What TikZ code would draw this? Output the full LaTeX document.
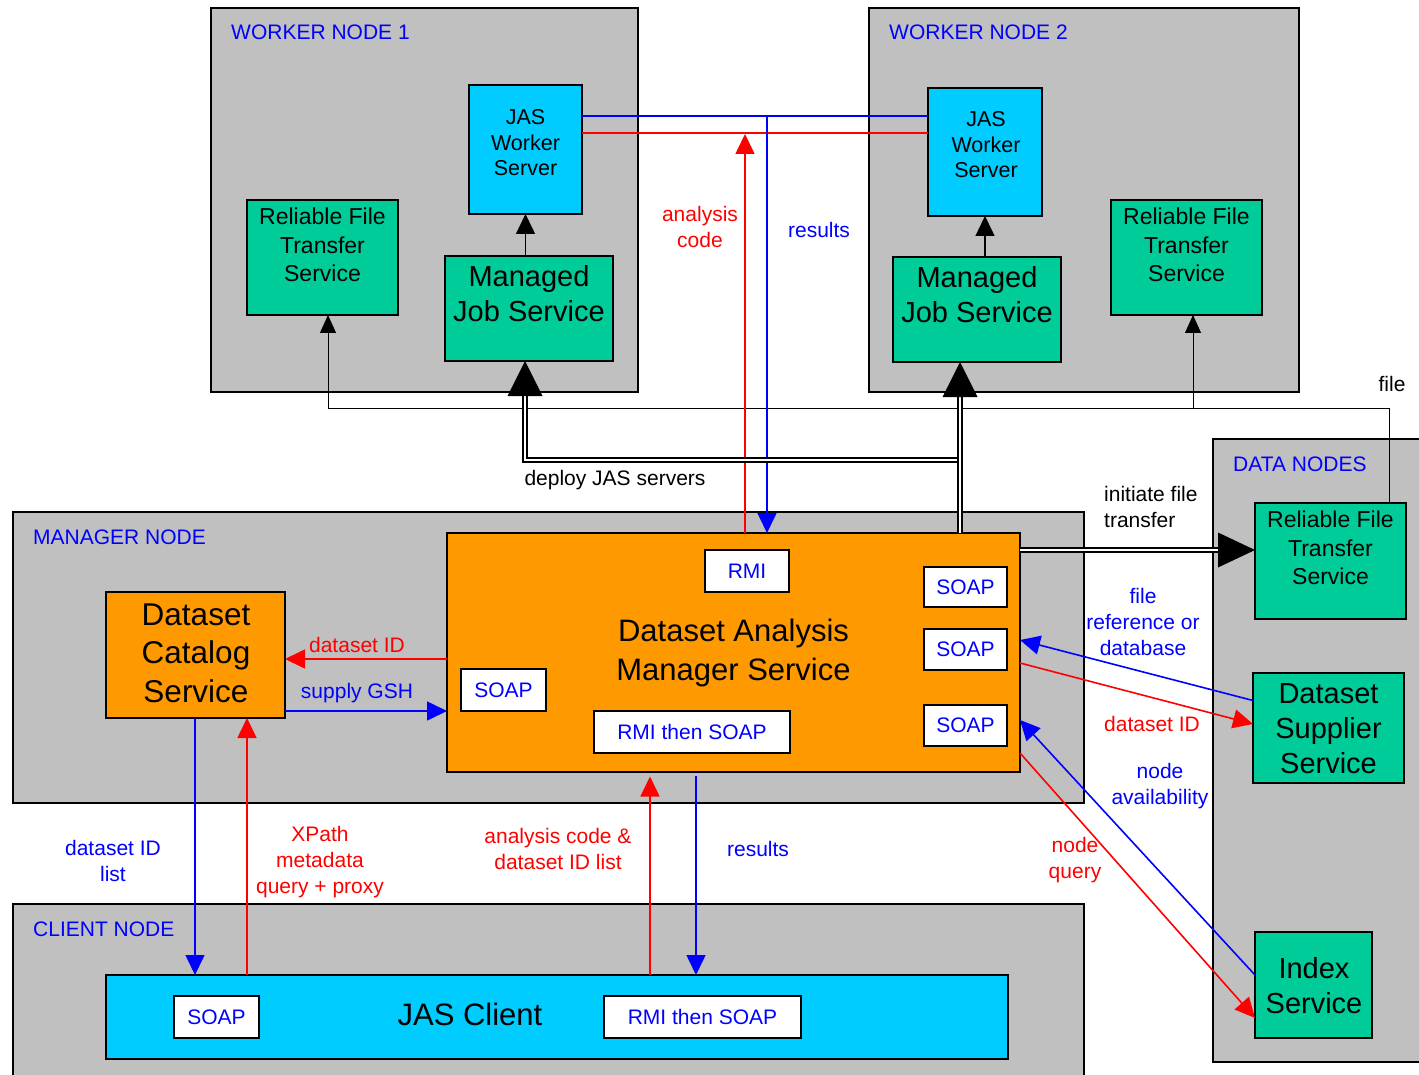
\documentclass[tikz,border=0pt]{standalone}
\usepackage{fontspec}
\setmainfont{Liberation Sans}
\usetikzlibrary{arrows.meta,calc}
\definecolor{ngray}{HTML}{C0C0C0}
\definecolor{jcyan}{HTML}{00CCFF}
\definecolor{sgreen}{HTML}{00CC99}
\definecolor{morange}{HTML}{FF9900}
\definecolor{lblue}{HTML}{0000FF}
\definecolor{lred}{HTML}{FF0000}
\newcommand{\fsz}[2]{\fontsize{#1}{#2}\selectfont}
\begin{document}
\begin{tikzpicture}[x=1pt,y=-1pt,
 container/.style={draw=black, line width=1.5pt, fill=ngray, anchor=north west, inner sep=0pt, outer sep=0pt},
 svcbox/.style={draw=black, line width=1.5pt, anchor=north west, inner sep=0pt, outer sep=0pt},
 portbox/.style={draw=black, fill=white, line width=1.2pt, anchor=north west, inner sep=0pt, outer sep=0pt, text=lblue, font=\fsz{21}{25}},
 grouplabel/.style={anchor=west, text=lblue, font=\fsz{21}{25}, inner sep=0pt},
 svctext/.style={align=center, inner sep=0pt},
 lbl/.style={align=center, inner sep=0pt, font=\fsz{21}{26}},
 bl/.style={draw=lblue, line width=1.6pt},
 rl/.style={draw=lred, line width=1.6pt},
 blk/.style={draw=black, line width=1.5pt},
 thinl/.style={draw=black, line width=0.9pt},
 tip/.style={-{Triangle[width=19pt,length=20pt]}},
 smalltip/.style={-{Triangle[width=16pt,length=18pt]}},
 dbl/.style={draw=black, line width=2pt, double=white, double distance=2.4pt},
]
\useasboundingbox (0,0) rectangle (1419,1075);
\fill[white] (0,0) rectangle (1419,1075);

% containers
\node[container, minimum width=427pt, minimum height=384pt] (w1) at (211,8) {};
\node[container, minimum width=430pt, minimum height=384pt] (w2) at (869,8) {};
\node[container, minimum width=1071pt, minimum height=291pt] (mgr) at (13,512) {};
\node[container, minimum width=1071pt, minimum height=190pt] (cli) at (13,904) {};
\node[container, minimum width=225pt, minimum height=623pt] (dat) at (1213,439) {};

\node[grouplabel] (w1l) at (231,32) {WORKER NODE 1};
\node[grouplabel] (w2l) at (889,32) {WORKER NODE 2};
\node[grouplabel] (mgrl) at (33,537) {MANAGER NODE};
\node[grouplabel] (clil) at (33,929) {CLIENT NODE};
\node[grouplabel] (datl) at (1233,464) {DATA NODES};

% services
\node[svcbox, fill=jcyan, minimum width=113pt, minimum height=129pt] (jws1) at (469,85) {};
\node[svctext, font=\fsz{21.5}{25.5}] (jws1t) at (525.5,143) {JAS\\Worker\\Server};
\node[svcbox, fill=jcyan, minimum width=114pt, minimum height=128pt] (jws2) at (928,88) {};
\node[svctext, font=\fsz{21.5}{25.5}] (jws2t) at (986,145) {JAS\\Worker\\Server};

\node[svcbox, fill=sgreen, minimum width=151pt, minimum height=115pt] (rft1) at (247,200) {};
\node[svctext, font=\fsz{23}{28.5}] (rft1t) at (322.5,245) {Reliable File\\Transfer\\Service};
\node[svcbox, fill=sgreen, minimum width=151pt, minimum height=115pt] (rft2) at (1111,200) {};
\node[svctext, font=\fsz{23}{28.5}] (rft2t) at (1186.5,245) {Reliable File\\Transfer\\Service};

\node[svcbox, fill=sgreen, minimum width=168pt, minimum height=105pt] (mjs1) at (445,256) {};
\node[svctext, font=\fsz{29}{35}] (mjs1t) at (529,294) {Managed\\Job Service};
\node[svcbox, fill=sgreen, minimum width=168pt, minimum height=105pt] (mjs2) at (893,257) {};
\node[svctext, font=\fsz{29}{35}] (mjs2t) at (977,295) {Managed\\Job Service};

\node[svcbox, fill=morange, minimum width=573pt, minimum height=239pt, align=center, font=\fsz{31}{39}] (dams) at (447,533) {Dataset Analysis\\Manager Service};
\node[svcbox, fill=morange, minimum width=179pt, minimum height=126pt] (dcs) at (106,592) {};
\node[svctext, font=\fsz{31.5}{38.5}] (dcst) at (196,653) {Dataset\\Catalog\\Service};

\node[svcbox, fill=jcyan, minimum width=902pt, minimum height=84pt] (jasc) at (106,975) {};
\node[svctext, font=\fsz{31}{38}] (jasct) at (470,1014) {JAS Client};

\node[svcbox, fill=sgreen, minimum width=151pt, minimum height=116pt] (rft3) at (1255,503) {};
\node[svctext, font=\fsz{23}{28.5}] (rft3t) at (1330.5,548) {Reliable File\\Transfer\\Service};
\node[svcbox, fill=sgreen, minimum width=151pt, minimum height=110pt] (dss) at (1253,673) {};
\node[svctext, font=\fsz{29}{35}] (dsst) at (1328.5,729) {Dataset\\Supplier\\Service};
\node[svcbox, fill=sgreen, minimum width=117pt, minimum height=106pt] (idx) at (1255,932) {};
\node[svctext, font=\fsz{29}{35}] (idxt) at (1314,986) {Index\\Service};

% ports
\node[portbox, minimum width=84pt, minimum height=42pt] (rmi) at (705,550) {RMI};
\node[portbox, minimum width=83pt, minimum height=40pt] (soap1) at (924,567) {SOAP};
\node[portbox, minimum width=83pt, minimum height=41pt] (soap2) at (924,629) {SOAP};
\node[portbox, minimum width=83pt, minimum height=41pt] (soap3) at (924,705) {SOAP};
\node[portbox, minimum width=85pt, minimum height=42pt] (soapl) at (461,669) {SOAP};
\node[portbox, minimum width=196pt, minimum height=42pt] (rmisoap) at (594,711) {RMI then SOAP};
\node[portbox, minimum width=85pt, minimum height=42pt] (csoap) at (174,996) {SOAP};
\node[portbox, minimum width=197pt, minimum height=42pt] (crmisoap) at (604,996) {RMI then SOAP};

% file transfer thin lines
\coordinate (fl) at (328,408);
\coordinate (fr) at (1389,408);
\coordinate (fm) at (1193,408);
\draw[thinl] (fl) -- (fr) -- (fr |- rft3.north);
\draw[thinl, smalltip] (fl) -- (fl |- rft1.south);
\draw[thinl, smalltip] (fm) -- (fm |- rft2.south);

% worker internal
\draw[blk, tip] (jws1.south |- mjs1.north) -- (jws1.south);
\draw[blk, tip] (jws2.south |- mjs2.north) -- (jws2.south);

% results / analysis code to workers
\draw[bl] (jws1.east |- 0,116) -- (jws2.west |- 0,116);
\draw[rl] (jws1.east |- 0,133) -- (jws2.west |- 0,133);
\coordinate (resj) at (767,116);
\coordinate (codej) at (745,134);
\draw[bl, tip] (resj) -- (resj |- dams.north);
\draw[rl, tip] (codej |- dams.north) -- (codej);

% deploy JAS servers
\coordinate (dr) at (960,460);
\coordinate (dl) at (525,460);
\coordinate (t2) at (dr |- mjs2.south);
\coordinate (t1) at (dl |- mjs1.south);
\draw[dbl] (dr |- dams.north) -- ($(t2)+(0,34)$);
\draw[dbl] ($(dr)+(-3.2,0)$) -- (dl) -- ($(t1)+(0,34)$);
\fill ($(t2)+(-17.5,35)$) -- ($(t2)+(17.5,35)$) -- (t2) -- cycle;
\fill ($(t1)+(-17.5,35)$) -- ($(t1)+(17.5,35)$) -- (t1) -- cycle;

% initiate file transfer
\coordinate (ift) at (dams.east |- 0,550);
\coordinate (iftt) at (rft3.west |- 0,550);
\draw[dbl] (ift) -- ($(iftt)+(-35,0)$);
\fill ($(iftt)+(-37,-17.5)$) -- ($(iftt)+(-37,17.5)$) -- (iftt) -- cycle;

% catalog
\draw[rl, tip] (dams.west |- 0,659) -- (dcs.east |- 0,659);
\draw[bl, tip] (dcs.east |- 0,711) -- (dams.west |- 0,711);
\draw[bl, tip] (195,0 |- dcs.south) -- (195,0 |- jasc.north);
\draw[rl, tip] (247,0 |- jasc.north) -- (247,0 |- dcs.south);

% client to DAMS
\draw[rl, tip] (650,0 |- jasc.north) -- ($(650,0 |- dams.south)+(0,4.5)$);
\draw[bl, tip] ($(696,0 |- dams.south)+(0,4)$) -- (696,0 |- jasc.north);

% data nodes
\draw[bl, tip] (dss.west |- 0,700.5) -- (dams.east |- 0,640);
\draw[rl, tip] (dams.east |- 0,663) -- (dss.west |- 0,724);
\draw[bl, tip] (idx.west |- 0,975) -- (dams.east |- 0,720);
\draw[rl, tip] (dams.east |- 0,753) -- (idx.west |- 0,1018);

% labels
\node[lbl, text=lred] (lac) at (700,227) {analysis\\code};
\node[lbl, text=lblue] (lres1) at (819,230) {results};
\node[lbl] (ldep) at (615,480) {deploy JAS servers};
\node[lbl, align=left, anchor=west] (lift) at (1104,507) {initiate file\\transfer};
\node[lbl] (lfile) at (1392,384) {file};
\node[lbl, text=lblue] (lfref) at (1143,622) {file\\reference or\\database};
\node[lbl, text=lred] (ldid2) at (1152,724) {dataset ID};
\node[lbl, text=lblue] (lnav) at (1160,786) {node\\availability};
\node[lbl, text=lred] (lnq) at (1075,860) {node\\query};
\node[lbl, text=lred] (ldid1) at (357,645) {dataset ID};
\node[lbl, text=lblue] (lgsh) at (357,693) {supply GSH};
\node[lbl, text=lblue] (ldidl) at (113,861) {dataset ID\\list};
\node[lbl, text=lred] (lxp) at (320,862) {XPath\\metadata\\query + proxy};
\node[lbl, text=lred] (lacd) at (558,849) {analysis code \&\\dataset ID list};
\node[lbl, text=lblue] (lres2) at (758,849) {results};
\end{tikzpicture}
\end{document}
